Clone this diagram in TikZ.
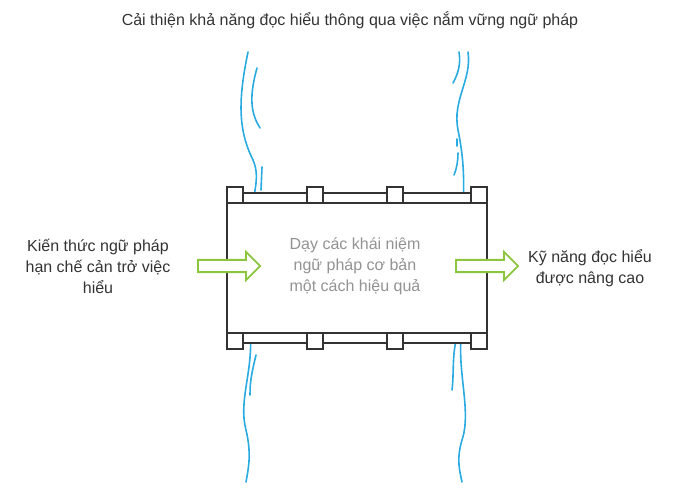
\documentclass[tikz,border=0pt]{standalone}
\usepackage{fontspec}
\setmainfont{Liberation Sans}
\usetikzlibrary{shapes.arrows}
\definecolor{river}{HTML}{29ABE2}
\definecolor{leaf}{HTML}{8CC63F}
\definecolor{ink}{HTML}{333333}
\begin{document}
\begin{tikzpicture}[x=1pt,y=-1pt,
  riverline/.style={river,line width=1.6pt,line cap=round},
  post/.style={draw=ink,fill=white,line width=1.5pt},
  label/.style={text centered,align=center,font=\fontsize{16}{21}\selectfont,text=ink},
  flow/.style={single arrow,draw=leaf,fill=white,line width=1.8pt,minimum height=62pt,minimum width=28pt,single arrow head extend=5pt,inner sep=3pt}]
\useasboundingbox (0,0) rectangle (700,497);
% rivers
\draw[riverline] (248,52) .. controls (238,100) and (238,130) .. (253,160) .. controls (262,180) and (250,200) .. (250,230);
\draw[riverline] (257,68) .. controls (248,100) and (252,115) .. (260,128);
\draw[riverline] (262,167) -- (261,190);
\draw[riverline] (250,330) .. controls (254,370) and (238,400) .. (246,430) .. controls (252,455) and (248,470) .. (246,482);
\draw[riverline] (256,355) .. controls (252,372) and (250,380) .. (250,395);
\draw[riverline] (468,52) .. controls (472,80) and (452,100) .. (458,130) .. controls (464,160) and (465,180) .. (462,230);
\draw[riverline] (459,52) .. controls (461,64) and (458,74) .. (453,83);
\draw[riverline] (457,139) -- (457,146);
\draw[riverline] (458,153) .. controls (458,160) and (457,168) .. (454,175);
\draw[riverline] (462,330) .. controls (456,370) and (472,410) .. (462,440) .. controls (456,460) and (460,472) .. (462,482);
\draw[riverline] (456,340) .. controls (452,360) and (454,375) .. (452,390);
% bridge
\draw[post] (227,203) rectangle (487,333);
\draw[post] (227,193) rectangle (487,203);
\draw[post] (227,333) rectangle (487,343);
\foreach \x in {227,307,387,471}{
  \draw[post] (\x,187) rectangle ++(16,16);
  \draw[post] (\x,333) rectangle ++(16,16);
}
% texts
\node[label] (title) at (350,20) {Cải thiện khả năng đọc hiểu thông qua việc nắm vững ngữ pháp};
\node[label,text=gray!85] (core) at (355,266) {Dạy các khái niệm\\ngữ pháp cơ bản\\một cách hiệu quả};
\node[label] (start) at (98,266) {Kiến thức ngữ pháp\\hạn chế cản trở việc\\hiểu};
\node[label] (goal) at (590,268) {Kỹ năng đọc hiểu\\được nâng cao};
\node[flow] (inarrow) at (226,266) {};
\node[flow] (outarrow) at (484,266) {};
\end{tikzpicture}
\end{document}
